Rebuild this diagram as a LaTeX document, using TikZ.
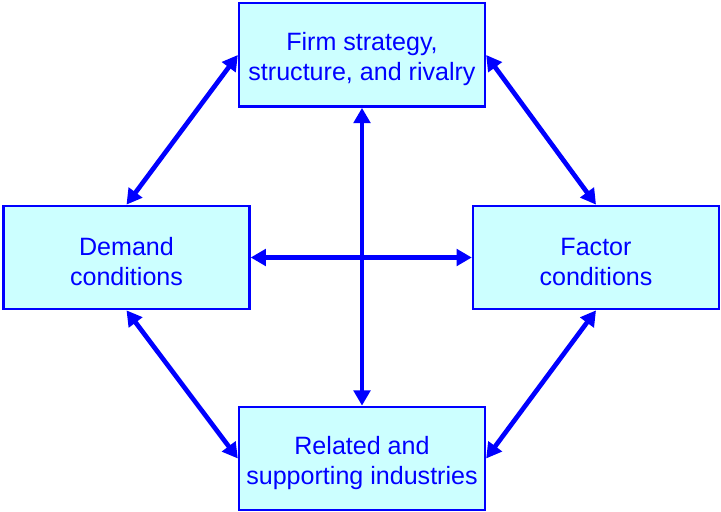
\documentclass[tikz,border=0pt]{standalone}
\usepackage{fontspec}
\setmainfont{Liberation Sans}
\usetikzlibrary{arrows.meta}
\definecolor{boxfill}{RGB}{204,255,255}
\definecolor{porterblue}{RGB}{0,0,255}
\newcommand{\lowered}{\rule{0pt}{1.05em}}
\tikzset{
 factorbox/.style={draw=porterblue, fill=boxfill, line width=2pt, minimum width=7.38cm, minimum height=3.1cm, align=center, text=porterblue, font=\fontsize{21.4}{25.6}\selectfont},
 link/.style={porterblue, line width=4pt, {Triangle[length=13pt,width=14pt]}-{Triangle[length=13pt,width=14pt]}}
}
\begin{document}
\begin{tikzpicture}[x=0.03cm,y=-0.03cm]
\useasboundingbox (0,0) rectangle (721,512);
\node[factorbox] (firm) at (362,55) {\lowered Firm strategy,\\structure, and rivalry};
\node[factorbox] (demand) at (126.5,257.5) {\lowered Demand\\conditions};
\node[factorbox] (factor) at (596,257.5) {\lowered Factor\\conditions};
\node[factorbox] (related) at (362,458.5) {\lowered Related and\\supporting industries};
% the cross in the middle
\draw[link] (firm.south) -- (related.north);
\draw[link] (demand.east) -- (factor.west);
% the four sides of the diamond
\draw[link] (demand.north) -- (firm.west);
\draw[link] (firm.east) -- (factor.north);
\draw[link] (demand.south) -- (related.west);
\draw[link] (related.east) -- (factor.south);
\end{tikzpicture}
\end{document}
